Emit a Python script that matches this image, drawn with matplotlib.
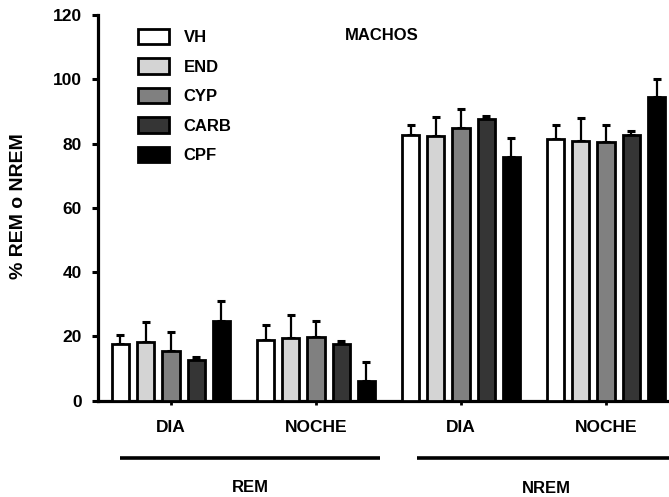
import matplotlib
matplotlib.use("Agg")
import matplotlib.pyplot as plt
import numpy as np

# ---- data ----
groups = ["DIA", "NOCHE", "DIA", "NOCHE"]
phases = ["REM", "NREM"]
treatments = ["VH", "END", "CYP", "CARB", "CPF"]
colors = ["#ffffff", "#d4d4d4", "#808080", "#353535", "#000000"]

means = {
    "VH":   [17.5, 19.0, 82.8, 81.3],
    "END":  [18.2, 19.6, 82.2, 80.7],
    "CYP":  [15.4, 19.8, 84.9, 80.6],
    "CARB": [12.7, 17.7, 87.7, 82.7],
    "CPF":  [24.9, 6.2, 75.7, 94.4],
}
errors = {
    "VH":   [2.8, 4.6, 2.9, 4.4],
    "END":  [6.2, 7.0, 6.2, 7.1],
    "CYP":  [5.9, 5.1, 5.8, 5.1],
    "CARB": [0.8, 0.8, 0.8, 1.1],
    "CPF":  [6.1, 5.7, 6.0, 5.6],
}
yticks = [0, 20, 40, 60, 80, 100, 120]

FONT = "Liberation Sans"
plt.rcParams["font.family"] = [FONT, "DejaVu Sans"]
plt.rcParams["font.weight"] = "bold"

W, H = 669, 497
fig = plt.figure(figsize=(W / 100, H / 100), dpi=100)
ax_left, ax_bottom_px, ax_top_px = 98, 400.7, 15
ax = fig.add_axes([ax_left / W, (H - ax_bottom_px) / H,
                   1 - ax_left / W, (ax_bottom_px - ax_top_px) / H])

x = np.arange(len(groups))
pitch = 0.174
width = 0.119
lw = 2.0
handles = []
for i, t in enumerate(treatments):
    pos = x + (i - 2) * pitch
    ax.errorbar(pos, means[t], yerr=[np.zeros(len(groups)), errors[t]],
                fmt="none", ecolor="black", elinewidth=1.6, capsize=3,
                capthick=2.2, zorder=2)
    b = ax.bar(pos, means[t], width=width, color=colors[i],
               edgecolor="black", linewidth=lw, zorder=3, label=t)
    handles.append(b)

ax.set_xlim(-0.503, 3.434)
ax.set_ylim(0, 120)
ax.set_yticks(yticks)
ax.set_yticklabels([str(v) for v in yticks], fontsize=12.5, fontweight="bold")
ax.set_xticks(x)
ax.set_xticklabels(groups, fontsize=12.5, fontweight="bold")

for s in ["top", "right"]:
    ax.spines[s].set_visible(False)
for s in ["left", "bottom"]:
    ax.spines[s].set_linewidth(2.3)
ax.tick_params(axis="y", length=4.5, width=2.2, pad=7)
ax.tick_params(axis="x", length=3, width=2, pad=11)

ax.set_ylabel("% REM o NREM", fontsize=14, fontweight="bold")
ax.yaxis.set_label_coords(-0.125, 0.505)

# group lines and labels
tr = ax.get_xaxis_transform()
ax.plot([-0.352, 1.441], [-0.1486, -0.1486], color="black", lw=2.6,
        transform=tr, clip_on=False, solid_capstyle="butt")
ax.plot([1.697, 3.6], [-0.1486, -0.1486], color="black", lw=2.6,
        transform=tr, clip_on=False, solid_capstyle="butt")
ax.text(0.545, -0.224, phases[0], transform=tr, ha="center", va="center",
        fontsize=12, fontweight="bold")
ax.text(2.59, -0.227, phases[1], transform=tr, ha="center", va="center",
        fontsize=12, fontweight="bold")

fig.text(382 / W, 1 - 35 / H, "MACHOS", ha="center", va="center",
         fontsize=12, fontweight="bold")

leg = ax.legend(handles=handles, loc="upper left",
                bbox_to_anchor=(138 / W, 1 - 29 / H),
                bbox_transform=fig.transFigure, frameon=False,
                fontsize=12, handlelength=1.85, handleheight=1.05,
                labelspacing=0.78, handletextpad=0.9, borderpad=0,
                borderaxespad=0)
for txt in leg.get_texts():
    txt.set_fontweight("bold")

fig.savefig("out.png", dpi=100)
